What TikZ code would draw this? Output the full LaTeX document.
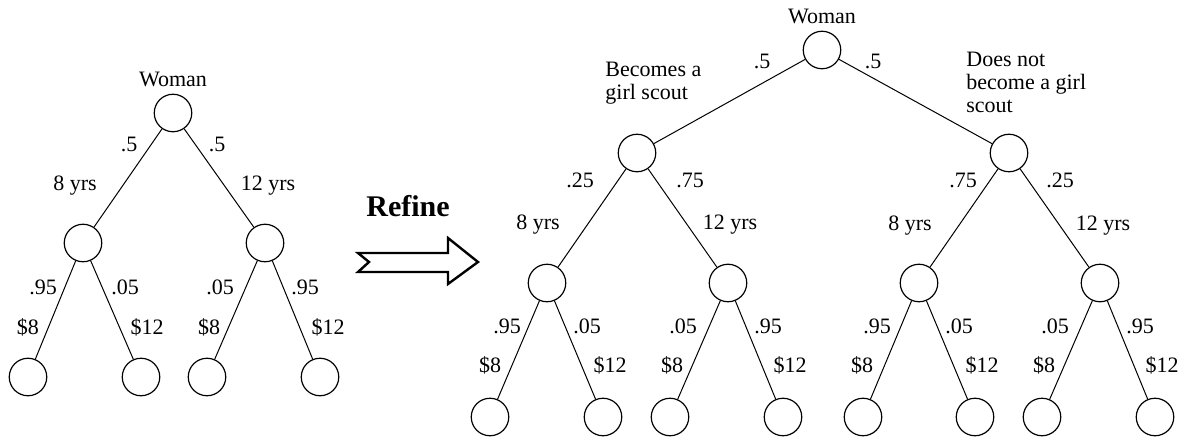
\documentclass[tikz,border=0pt]{standalone}
\usepackage{fontspec}
\setmainfont{Liberation Serif}
\usetikzlibrary{positioning}
\tikzset{
  chance/.style={circle, draw, line width=0.6pt, minimum size=18.75pt, inner sep=0pt},
  branch/.style={line width=0.5pt},
  elabel/.style={font=\fontsize{11}{11.5}\selectfont, inner sep=0pt, anchor=base},
  note/.style={font=\fontsize{11}{11.5}\selectfont, inner sep=0pt, anchor=north west, align=left},
  refarrow/.style={line width=1.2pt, line join=miter, fill=white}
}
\begin{document}
\begin{tikzpicture}[x=0.5pt, y=-0.5pt]
        \useasboundingbox (0,0) rectangle (1187,438);
        % coarse tree
        \node[chance] (wl) at (173,113) {};
        \node[elabel, above=3pt of wl] (wlname) {Woman};
        \node[chance] (l8) at (83,243) {};
        \node[chance] (l12) at (265,243) {};
        \node[chance] (l8a) at (28,377) {};
        \node[chance] (l8b) at (141,377) {};
        \node[chance] (l12a) at (207,377) {};
        \node[chance] (l12b) at (320,377) {};
        \draw[branch] (wl)--(l8); \draw[branch] (wl)--(l12);
        \draw[branch] (l8)--(l8a); \draw[branch] (l8)--(l8b);
        \draw[branch] (l12)--(l12a); \draw[branch] (l12)--(l12b);
        \node[elabel] (lp1) at (129,152) {.5};
        \node[elabel] (lp2) at (217,152) {.5};
        \node[elabel] (ly1) at (75,191) {8 yrs};
        \node[elabel] (ly2) at (268,191) {12 yrs};
        \node[elabel] (lq1) at (43,294) {.95};
        \node[elabel] (lq2) at (125,294) {.05};
        \node[elabel] (lq3) at (220,294) {.05};
        \node[elabel] (lq4) at (305,294) {.95};
        \node[elabel] (lc1) at (28,334) {\$8};
        \node[elabel] (lc2) at (147,334) {\$12};
        \node[elabel] (lc3) at (209,334) {\$8};
        \node[elabel] (lc4) at (328,334) {\$12};
        % refine arrow
        \node[font=\fontsize{15}{15}\selectfont\bfseries, inner sep=0pt, anchor=base] (refine) at (408,217) {Refine};
        \draw[refarrow] (358,253) -- (448,253) -- (448,238) -- (478,262) -- (448,284)
          -- (448,272) -- (358,272) -- (369,262) -- cycle;
        % refined tree
        \node[chance] (wr) at (822,50) {};
        \node[elabel, above=3pt of wr] (wrname) {Woman};
        \node[chance] (gs) at (637,153) {};
        \node[chance] (ng) at (1009,153) {};
        \node[chance] (gs8) at (547,283) {};
        \node[chance] (gs12) at (728,283) {};
        \node[chance] (ng8) at (919,283) {};
        \node[chance] (ng12) at (1100,283) {};
        \node[chance] (gs8a) at (490,417) {};
        \node[chance] (gs8b) at (603,417) {};
        \node[chance] (gs12a) at (670,417) {};
        \node[chance] (gs12b) at (783,417) {};
        \node[chance] (ng8a) at (863,417) {};
        \node[chance] (ng8b) at (975,417) {};
        \node[chance] (ng12a) at (1042,417) {};
        \node[chance] (ng12b) at (1155,417) {};
        \draw[branch] (wr)--(gs); \draw[branch] (wr)--(ng);
        \draw[branch] (gs)--(gs8); \draw[branch] (gs)--(gs12);
        \draw[branch] (ng)--(ng8); \draw[branch] (ng)--(ng12);
        \draw[branch] (gs8)--(gs8a); \draw[branch] (gs8)--(gs8b);
        \draw[branch] (gs12)--(gs12a); \draw[branch] (gs12)--(gs12b);
        \draw[branch] (ng8)--(ng8a); \draw[branch] (ng8)--(ng8b);
        \draw[branch] (ng12)--(ng12a); \draw[branch] (ng12)--(ng12b);
        \node[elabel] (rp1) at (762,69) {.5};
        \node[elabel] (rp2) at (873,69) {.5};
        \node[note] (gsnote) at (605,62) {Becomes a\\girl scout};
        \node[note] (ngnote) at (966,52) {Does not\\become a girl\\scout};
        \node[elabel] (rs1) at (580,188) {.25};
        \node[elabel] (rs2) at (690,188) {.75};
        \node[elabel] (rs3) at (963,188) {.75};
        \node[elabel] (rs4) at (1060,188) {.25};
        \node[elabel] (ry1) at (538,229) {8 yrs};
        \node[elabel] (ry2) at (730,229) {12 yrs};
        \node[elabel] (ry3) at (910,230) {8 yrs};
        \node[elabel] (ry4) at (1103,230) {12 yrs};
        \node[elabel] (rq1) at (507,333) {.95};
        \node[elabel] (rq2) at (587,333) {.05};
        \node[elabel] (rq3) at (683,333) {.05};
        \node[elabel] (rq4) at (768,333) {.95};
        \node[elabel] (rq5) at (877,333) {.95};
        \node[elabel] (rq6) at (959,333) {.05};
        \node[elabel] (rq7) at (1055,333) {.05};
        \node[elabel] (rq8) at (1140,333) {.95};
        \node[elabel] (rc1) at (490,372) {\$8};
        \node[elabel] (rc2) at (610,372) {\$12};
        \node[elabel] (rc3) at (672,372) {\$8};
        \node[elabel] (rc4) at (790,372) {\$12};
        \node[elabel] (rc5) at (862,372) {\$8};
        \node[elabel] (rc6) at (982,372) {\$12};
        \node[elabel] (rc7) at (1044,372) {\$8};
        \node[elabel] (rc8) at (1162,372) {\$12};
      \end{tikzpicture}
\end{document}
